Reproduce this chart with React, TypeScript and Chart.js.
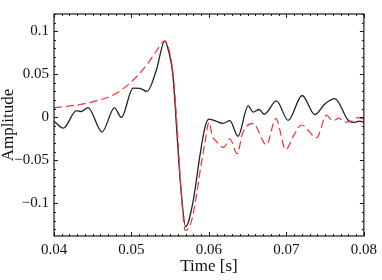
import React, { useEffect, useRef } from 'react';
import { Chart, registerables } from 'chart.js';

Chart.register(...registerables);

// Measured signal (black, solid)
const measuredT = [
  0.0400, 0.0412, 0.0429, 0.04353, 0.0444, 0.0462, 0.0478, 0.0487, 0.0502, 0.0511,
  0.0520, 0.0532, 0.0543, 0.0547, 0.05537, 0.0558, 0.05632, 0.0570, 0.05795, 0.05881,
  0.05946, 0.0600, 0.06075, 0.0618, 0.0627, 0.06375, 0.06506, 0.06571, 0.06648, 0.06713,
  0.06872, 0.07022, 0.07203, 0.07367, 0.07496, 0.07625, 0.07797, 0.07862, 0.07948, 0.0800,
];
const measuredA = [
  -0.0045, -0.0127, 0.0078, 0.0067, 0.0112, -0.0171, 0.0110, -0.0002, 0.0339, 0.0335,
  0.0300, 0.0544, 0.0888, 0.080, 0.047, -0.009, -0.076, -0.127, -0.098, -0.046,
  -0.0126, -0.0022, -0.004, -0.007, -0.004, -0.022, 0.0132, 0.006, 0.009, 0.0035,
  0.019, -0.0036, 0.0253, 0.003, 0.0153, 0.0216, -0.0034, -0.006, -0.0045, -0.006,
];

// Model signal (red, dashed)
const modelT = [
  0.0400, 0.0429, 0.0459, 0.0480, 0.0500, 0.0519, 0.0532, 0.0543, 0.0548, 0.0554,
  0.0559, 0.0564, 0.05695, 0.05774, 0.05839, 0.05882, 0.05946, 0.0600, 0.06045, 0.0609,
  0.0619, 0.0627, 0.06364, 0.06437, 0.0657, 0.06743, 0.06863, 0.06992, 0.07096, 0.07195,
  0.07389, 0.07518, 0.0760, 0.0768, 0.0775, 0.0785, 0.0792, 0.0800,
];
const modelA = [
  0.0110, 0.0142, 0.0201, 0.0276, 0.0413, 0.0600, 0.0767, 0.0888, 0.080, 0.048,
  -0.012, -0.085, -0.1315, -0.121, -0.091, -0.065, -0.031, -0.006, -0.022, -0.0276,
  -0.035, -0.025, -0.0424, -0.018, -0.007, -0.032, -0.0015, -0.0375, -0.021, -0.009,
  -0.0238, 0.0022, -0.0040, -0.0010, -0.0058, -0.0040, -0.0005, -0.0020,
];

const xMajorTicks = [0.04, 0.05, 0.06, 0.07, 0.08];
const yMajorTicks = [-0.1, -0.05, 0, 0.05, 0.1];
const xMinorStep = 0.001;
const yMinorStep = 0.01;
const xRange = [0.04, 0.08];
const yRange = [-0.138, 0.12];

const fmt = (v: number) => {
  const s = String(Math.round(v * 1000) / 1000);
  return s.startsWith('-') ? '\u2212' + s.slice(1) : s;
};

const framePlugin = {
  id: 'frameTicks',
  afterDraw(chart: any) {
    const { ctx, chartArea, scales } = chart;
    const { left, right, top, bottom } = chartArea;
    const xs = scales.x;
    const ys = scales.y;
    ctx.save();
    ctx.strokeStyle = '#1a1a1a';
    ctx.lineWidth = 1;
    ctx.beginPath();
    const isMajor = (v: number, majors: number[]) => majors.some((m) => Math.abs(m - v) < 1e-9);
    const nx = Math.round((xRange[1] - xRange[0]) / xMinorStep);
    for (let i = 0; i <= nx; i++) {
      const v = Math.round((xRange[0] + i * xMinorStep) * 1e6) / 1e6;
      const p = Math.round(xs.getPixelForValue(v)) + 0.5;
      const len = isMajor(v, xMajorTicks) ? 4 : 2;
      ctx.moveTo(p, bottom);
      ctx.lineTo(p, bottom - len);
      ctx.moveTo(p, top);
      ctx.lineTo(p, top + len);
    }
    const y0 = Math.ceil(yRange[0] / yMinorStep);
    const y1 = Math.floor(yRange[1] / yMinorStep);
    for (let i = y0; i <= y1; i++) {
      const v = Math.round(i * yMinorStep * 1e6) / 1e6;
      const p = Math.round(ys.getPixelForValue(v)) + 0.5;
      const len = isMajor(v, yMajorTicks) ? 4 : 2;
      ctx.moveTo(left, p);
      ctx.lineTo(left + len, p);
      ctx.moveTo(right, p);
      ctx.lineTo(right - len, p);
    }
    ctx.stroke();
    ctx.lineWidth = 1.2;
    ctx.strokeRect(left, top, right - left, bottom - top);
    ctx.restore();
  },
};

export default function App() {
  const ref = useRef<HTMLCanvasElement | null>(null);
  useEffect(() => {
    if (!ref.current) return;
    const serif = "'Liberation Serif', 'DejaVu Serif', serif";
    const chart = new Chart(ref.current, {
      type: 'line',
      data: {
        datasets: [
          {
            label: 'model',
            data: modelT.map((t, i) => ({ x: t, y: modelA[i] })),
            borderColor: 'rgb(255, 45, 45)',
            borderWidth: 1.2,
            borderDash: [8, 4],
            pointRadius: 0,
            cubicInterpolationMode: 'monotone',
            fill: false,
          },
          {
            label: 'measured',
            data: measuredT.map((t, i) => ({ x: t, y: measuredA[i] })),
            borderColor: '#222222',
            borderWidth: 1.3,
            pointRadius: 0,
            cubicInterpolationMode: 'monotone',
            fill: false,
          },
        ],
      },
      options: {
        animation: false,
        responsive: false,
        devicePixelRatio: 1,
        layout: { padding: { top: 5, right: 18, left: 0, bottom: 0 } },
        plugins: { legend: { display: false }, tooltip: { enabled: false } },
        scales: {
          x: {
            type: 'linear',
            min: xRange[0],
            max: xRange[1],
            grid: { display: false, drawTicks: false },
            border: { display: false },
            afterBuildTicks: (s: any) => {
              s.ticks = xMajorTicks.map((v) => ({ value: v }));
            },
            afterFit: (s: any) => {
              s.height = 44;
            },
            ticks: {
              padding: 5,
              maxRotation: 0,
              autoSkip: false,
              color: '#111',
              font: { family: serif, size: 15 },
              callback: (v: any) => fmt(Number(v)),
            },
            title: {
              display: true,
              text: 'Time [s]',
              color: '#111',
              font: { family: serif, size: 17 },
              padding: { top: 0, bottom: 3 },
            },
          },
          y: {
            type: 'linear',
            min: yRange[0],
            max: yRange[1],
            grid: { display: false, drawTicks: false },
            border: { display: false },
            afterBuildTicks: (s: any) => {
              s.ticks = yMajorTicks.map((v) => ({ value: v }));
            },
            afterFit: (s: any) => {
              s.width = 54;
            },
            ticks: {
              padding: 5,
              autoSkip: false,
              color: '#111',
              font: { family: serif, size: 15 },
              callback: (v: any) => fmt(Number(v)),
            },
            title: {
              display: true,
              text: 'Amplitude',
              color: '#111',
              font: { family: serif, size: 17, lineHeight: 1 },
              padding: { top: 0, bottom: 0 },
            },
          },
        },
      },
      plugins: [framePlugin],
    } as any);
    return () => chart.destroy();
  }, []);
  return (
    <div style={{ position: 'fixed', left: 0, top: 0, width: 382, height: 280, background: '#fff' }}>
      <canvas ref={ref} width={382} height={280} style={{ display: 'block' }} />
    </div>
  );
}
